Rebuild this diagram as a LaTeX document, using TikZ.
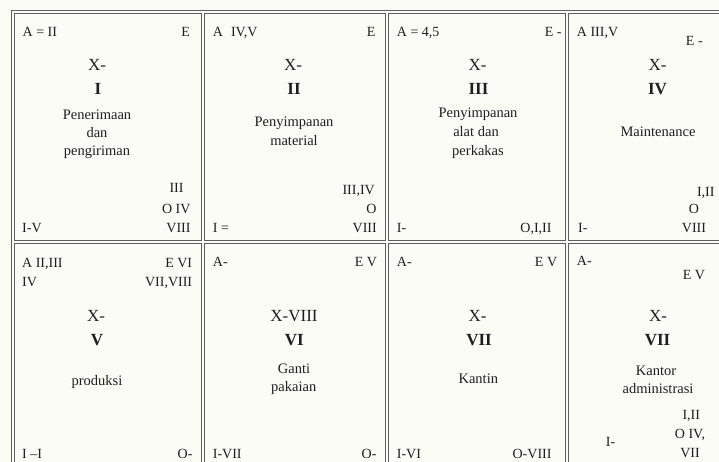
\documentclass[tikz,border=0pt]{standalone}
\usepackage{fontspec}
\setmainfont{Liberation Serif}

\definecolor{paper}{RGB}{252,252,247}
\definecolor{ink}{RGB}{30,30,30}
\definecolor{rule}{RGB}{95,95,95}

\def\ux{1pt}
\def\uy{-1pt}

\begin{document}
\begin{tikzpicture}[x=\ux,y=\uy, inner sep=0pt, text=ink,
    lbl/.style={font=\fontsize{14}{16}\selectfont},
    nm/.style={font=\fontsize{14.5}{16}\selectfont, anchor=base},
    big/.style={font=\fontsize{17}{19}\selectfont, anchor=base},
    num/.style={font=\fontsize{17}{19}\selectfont\bfseries, anchor=base}]

    \useasboundingbox (0,0) rectangle (719,462);
    \fill[paper] (0,0) rectangle (719,462);
    \clip (0,0) rectangle (719,462);

    % table rules, all double
    \draw[rule, line width=1pt, double=paper, double distance=2pt]
        (730,12.5) -- (12.5,12.5) -- (12.5,475)
        (12.5,241.5) -- (730,241.5)
        \foreach \x in {203,386.5,567}{ (\x,12.5) -- (\x,475) };

    % I
    \node[lbl, anchor=base west] (a1) at (22.5,37) {A = II};
    \node[lbl, anchor=base east] (e1) at (190,37) {E};
    \node[big] (x1) at (97,70.7) {X-};
    \node[num] (r1) at (98,95) {I};
    \node[nm] (n1a) at (97,120) {Penerimaan};
    \node[nm] (n1b) at (97,137.5) {dan};
    \node[nm] (n1c) at (97,155.5) {pengiriman};
    \node[lbl, anchor=base] (o1a) at (176.5,193) {III};
    \node[lbl, anchor=base east] (o1b) at (190.7,214) {O IV};
    \node[lbl, anchor=base east] (o1c) at (190.7,233) {VIII};
    \node[lbl, anchor=base west] (i1) at (22,233) {I-V};

    % II
    \node[lbl, anchor=base west] (a2) at (212.7,37) {A\hspace{8pt}IV,V};
    \node[lbl, anchor=base east] (e2) at (375.7,37) {E};
    \node[big] (x2) at (293,70.7) {X-};
    \node[num] (r2) at (294,95) {II};
    \node[nm] (n2a) at (294,126.7) {Penyimpanan};
    \node[nm] (n2b) at (294,146) {material};
    \node[lbl, anchor=base east] (o2a) at (375,195) {III,IV};
    \node[lbl, anchor=base east] (o2b) at (376.7,214) {O};
    \node[lbl, anchor=base east] (o2c) at (377,233) {VIII};
    \node[lbl, anchor=base west] (i2) at (212.7,233) {I =};

    % III
    \node[lbl, anchor=base west] (a3) at (396.7,37) {A = 4,5};
    \node[lbl, anchor=base east] (e3) at (561.7,37) {E -};
    \node[big] (x3) at (477.5,70.7) {X-};
    \node[num] (r3) at (478.5,95) {III};
    \node[nm] (n3a) at (478,118) {Penyimpanan};
    \node[nm] (n3b) at (476,137) {alat dan};
    \node[nm] (n3c) at (478,155.7) {perkakas};
    \node[lbl, anchor=base west] (i3) at (396.7,233) {I-};
    \node[lbl, anchor=base east] (o3) at (551.7,233) {O,I,II};

    % IV
    \node[lbl, anchor=base west] (a4) at (576.7,36.7) {A III,V};
    \node[lbl, anchor=base] (e4) at (694.3,46) {E -};
    \node[big] (x4) at (657.5,70.7) {X-};
    \node[num] (r4) at (657.5,95) {IV};
    \node[nm] (n4) at (658,136.7) {Maintenance};
    \node[lbl, anchor=base] (o4a) at (705.8,196.7) {I,II};
    \node[lbl, anchor=base] (o4b) at (694,214) {O};
    \node[lbl, anchor=base] (o4c) at (694,233) {VIII};
    \node[lbl, anchor=base west] (i4) at (578,233) {I-};

    % V
    \node[lbl, anchor=base west] (a5a) at (22,267.3) {A II,III};
    \node[lbl, anchor=base west] (a5b) at (22,286.7) {IV};
    \node[lbl, anchor=base east] (e5a) at (192.3,267.3) {E VI};
    \node[lbl, anchor=base east] (e5b) at (192.3,286.7) {VII,VIII};
    \node[big] (x5) at (96,321.7) {X-};
    \node[num] (r5) at (97,345) {V};
    \node[nm] (n5) at (97,385.7) {produksi};
    \node[lbl, anchor=base west] (i5) at (22,458) {I –I};
    \node[lbl, anchor=base east] (o5) at (192.7,458) {O-};

    % VI
    \node[lbl, anchor=base west] (a6) at (212.7,266.7) {A-};
    \node[lbl, anchor=base east] (e6) at (377.3,266.7) {E V};
    \node[big] (x6) at (294,321) {X-VIII};
    \node[num] (r6) at (294.3,345.7) {VI};
    \node[nm] (n6a) at (294,373.3) {Ganti};
    \node[nm] (n6b) at (293.7,391.7) {pakaian};
    \node[lbl, anchor=base west] (i6) at (212.7,458.3) {I-VII};
    \node[lbl, anchor=base east] (o6) at (376.7,458.3) {O-};

    % VII
    \node[lbl, anchor=base west] (a7) at (396.7,266.7) {A-};
    \node[lbl, anchor=base east] (e7) at (557.3,266.7) {E V};
    \node[big] (x7) at (477.5,321) {X-};
    \node[num] (r7) at (479,345.7) {VII};
    \node[nm] (n7) at (478.3,383.3) {Kantin};
    \node[lbl, anchor=base west] (i7) at (396.7,458.3) {I-VI};
    \node[lbl, anchor=base east] (o7) at (551.7,458.3) {O-VIII};

    % VIII
    \node[lbl, anchor=base west] (a8) at (576.7,265) {A-};
    \node[lbl, anchor=base] (e8) at (694,279) {E V};
    \node[big] (x8) at (658,321.7) {X-};
    \node[num] (r8) at (657.5,345.7) {VII};
    \node[nm] (n8a) at (656,375) {Kantor};
    \node[nm] (n8b) at (658,393.3) {administrasi};
    \node[lbl, anchor=base] (o8a) at (691.3,419) {I,II};
    \node[lbl, anchor=base] (o8b) at (690,438.3) {O IV,};
    \node[lbl, anchor=base] (o8c) at (690,457.7) {VII};
    \node[lbl, anchor=base west] (i8) at (605.7,446.7) {I-};
\end{tikzpicture}
\end{document}
